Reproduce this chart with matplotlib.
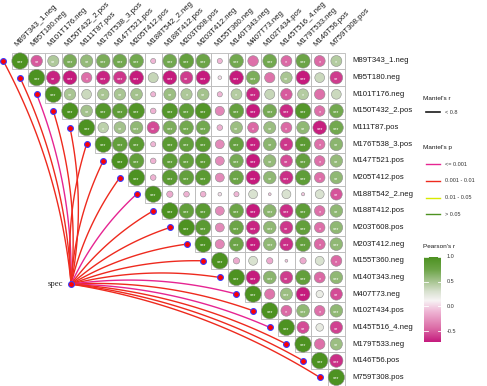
import matplotlib
matplotlib.use("Agg")
import matplotlib.pyplot as plt
from matplotlib.colors import LinearSegmentedColormap
from matplotlib.patches import Circle, Rectangle
import numpy as np

plt.rcParams['font.family'] = ['Liberation Sans', 'DejaVu Sans']

labels = ["M89T343_1.neg", "M95T180.neg", "M101T176.neg", "M150T432_2.pos",
          "M111T87.pos", "M176T538_3.pos", "M147T521.pos", "M205T412.pos",
          "M188T542_2.neg", "M188T412.pos", "M203T608.pos", "M203T412.neg",
          "M155T360.neg", "M140T343.neg", "M407T73.neg", "M102T434.pos",
          "M145T516_4.neg", "M179T533.neg", "M146T56.pos", "M759T308.pos"]

# Pearson's r, upper triangle: row i holds columns i+1 .. 19
r_upper = [
    [-0.5, 0.47, 0.69, 0.58, 0.69, 0.72, 0.72, -0.1, 0.72, 0.8, 0.75, -0.1, 0.72, -0.42, 0.72, -0.45, 0.75, -0.45, 0.45],
    [-0.69, -0.72, -0.42, -0.68, -0.62, -0.72, 0.38, -0.72, -0.6, -0.72, 0.05, -0.72, 0.68, -0.4, 0.5, -0.72, 0.36, -0.6],
    [0.5, 0.36, 0.5, 0.5, 0.52, -0.1, 0.55, 0.48, 0.52, -0.1, 0.45, -0.68, 0.38, -0.5, 0.45, -0.42, 0.36],
    [0.52, 0.93, 0.85, 0.95, -0.12, 0.93, 0.85, 0.95, -0.32, 0.8, -0.72, 0.7, -0.66, 0.93, -0.42, 0.72],
    [0.42, 0.52, 0.6, -0.55, 0.68, 0.72, 0.72, -0.12, 0.55, -0.45, 0.55, -0.45, 0.6, -0.7, 0.72],
    [0.82, 0.88, -0.1, 0.88, 0.82, 0.88, -0.3, 0.8, -0.7, 0.62, -0.62, 0.88, -0.42, 0.62],
    [0.82, -0.12, 0.85, 0.82, 0.88, -0.3, 0.7, -0.72, 0.58, -0.55, 0.8, -0.42, 0.58],
    [-0.12, 0.88, 0.82, 0.88, -0.3, 0.75, -0.72, 0.6, -0.65, 0.85, -0.42, 0.6],
    [-0.15, -0.12, -0.12, 0.05, -0.1, 0.3, -0.03, 0.3, -0.04, 0.3, -0.52],
    [0.82, 0.88, -0.3, 0.75, -0.72, 0.62, -0.65, 0.85, -0.42, 0.6],
    [0.88, -0.3, 0.75, -0.68, 0.6, -0.62, 0.82, -0.42, 0.6],
    [-0.32, 0.75, -0.72, 0.6, -0.65, 0.82, -0.45, 0.6],
    [-0.15, 0.3, -0.15, -0.03, -0.15, 0.3, -0.45],
    [-0.72, 0.62, -0.6, 0.82, -0.45, 0.6],
    [-0.4, 0.55, -0.72, 0.2, -0.55],
    [-0.45, 0.6, -0.42, 0.6],
    [-0.55, 0.22, -0.58],
    [-0.42, 0.55],
    [-0.65],
]

stars_upper = [
    ['**', '**', '***', '**', '***', '***', '***', '', '***', '***', '***', '', '***', '', '***', '*', '***', '*', '*'],
    ['**', '***', '*', '***', '***', '***', '', '***', '**', '***', '', '***', '***', '', '**', '***', '', '**'],
    ['**', '', '**', '**', '**', '', '**', '*', '**', '', '*', '***', '', '*', '*', '', ''],
    ['**', '***', '***', '***', '', '***', '***', '***', '', '***', '***', '***', '***', '***', '*', '***'],
    ['*', '**', '***', '**', '***', '***', '***', '', '**', '*', '**', '*', '**', '***', '***'],
    ['***', '***', '', '***', '***', '***', '', '***', '***', '**', '**', '***', '*', '**'],
    ['***', '', '***', '***', '***', '', '***', '***', '**', '**', '***', '*', '**'],
    ['', '***', '***', '***', '', '***', '***', '**', '***', '***', '*', '**'],
    ['', '', '', '', '', '', '', '', '', '', '**'],
    ['***', '***', '', '***', '***', '***', '***', '***', '*', '**'],
    ['***', '', '***', '***', '***', '**', '***', '*', '***'],
    ['', '***', '***', '***', '***', '***', '*', '***'],
    ['', '', '', '', '', '', '*'],
    ['***', '***', '**', '***', '*', '***'],
    ['', '***', '***', '', '**'],
    ['*', '***', '*', '***'],
    ['**', '', '**'],
    ['', '**'],
    ['***'],
]

# Mantel test p class of spec vs each variable
mantel_p = ['0.001 - 0.01', '0.001 - 0.01', '<= 0.001', '0.001 - 0.01', '0.001 - 0.01',
            '0.001 - 0.01', '0.001 - 0.01', '0.001 - 0.01', '<= 0.001', '0.001 - 0.01',
            '0.001 - 0.01', '0.001 - 0.01', '0.001 - 0.01', '0.001 - 0.01', '<= 0.001',
            '0.001 - 0.01', '<= 0.001', '0.001 - 0.01', '0.001 - 0.01', '0.001 - 0.01']
p_levels = ['<= 0.001', '0.001 - 0.01', '0.01 - 0.05', '> 0.05']
p_colors = ['#e62592', '#ee2a1e', '#d8ea00', '#4d9221']
r_levels = ['< 0.8']

n = len(labels)
corr = np.eye(n)
stars = [['***' if i == j else '' for j in range(n)] for i in range(n)]
for i, row in enumerate(r_upper):
    for k, v in enumerate(row):
        corr[i, i + 1 + k] = v
        stars[i][i + 1 + k] = stars_upper[i][k]

vmin = min(min(row) for row in r_upper)
vmax = 1.0
anchors = [(-0.72, '#c51b7d'), (-0.45, '#db6aa5'), (-0.1, '#efb6d5'), (0.12, '#f7f4f5'),
           (0.3, '#d9e2d0'), (0.5, '#a9c593'), (0.75, '#6ca447'), (1.0, '#4d9221')]
pos = [min(max((v - vmin) / (vmax - vmin), 0), 1) for v, _ in anchors]
pos[0], pos[-1] = 0.0, 1.0
cmap = LinearSegmentedColormap.from_list('pg', list(zip(pos, [c for _, c in anchors])))

def col_of(v):
    return cmap((v - vmin) / (vmax - vmin))

W, H = 487, 386
cell = 16.65
cx0, cy0 = 20, 61   # pixel centre of the top-left cell

fig = plt.figure(figsize=(W / 100, H / 100), dpi=100)
ax = fig.add_axes([0, 0, 1, 1])
ax.set_xlim(-cx0 / cell, (W - cx0) / cell)
ax.set_ylim((H - cy0) / cell, -cy0 / cell)
ax.axis('off')

# Mantel links from spec to the node left of each diagonal cell
spec = np.array([3.07, 13.4])
k = 0.1
t = np.linspace(0, 1, 60)
for i in range(n):
    end = np.array([i - 1.0, float(i)])
    d = end - spec
    L = np.hypot(*d)
    nrm = np.array([d[1], -d[0]]) / L
    if end[0] < spec[0]:
        nrm = -nrm
    c = (spec + end) / 2 + k * L * nrm
    pts = ((1 - t)[:, None] ** 2) * spec + (2 * t * (1 - t))[:, None] * c + (t[:, None] ** 2) * end
    color = p_colors[p_levels.index(mantel_p[i])]
    ax.plot(pts[:, 0], pts[:, 1], color=color, lw=1.0, zorder=1, solid_capstyle='round')
    ax.plot(end[0], end[1], 'o', ms=4.2, mfc='#ff0000', mec='#3b3bff', mew=0.8, zorder=5)
ax.plot(spec[0], spec[1], 'o', ms=4.2, mfc='#ff0000', mec='#3b3bff', mew=0.8, zorder=5)
ax.text(spec[0] - 0.5, spec[1], 'spec', ha='right', va='center', fontsize=6.2,
        family=['Liberation Serif', 'DejaVu Serif'], color='#222222')

# correlation cells
for i in range(n):
    for j in range(i, n):
        ax.add_patch(Rectangle((j - 0.5, i - 0.5), 1, 1, fc='white', ec='#b8b8b8', lw=0.6, zorder=2))
for i in range(n):
    for j in range(i, n):
        v = corr[i, j]
        rad = 0.49 * np.sqrt(abs(v))
        ax.add_patch(Circle((j, i), rad, fc=col_of(v), ec='#8c8c8c', lw=0.4, zorder=3))
        if stars[i][j]:
            ax.text(j, i + 0.1, stars[i][j], ha='center', va='center', fontsize=3.9,
                    color='white', zorder=4)

for i, lab in enumerate(labels):
    ax.text(n - 0.5 + 0.45, i, lab, ha='left', va='center', fontsize=5.6, color='#1a1a1a')
    ax.text(i - 0.2, -0.85, lab, ha='left', va='baseline', rotation=45,
            rotation_mode='anchor', fontsize=5.6, color='#1a1a1a')

# legends in pixel coordinates
lg = fig.add_axes([0, 0, 1, 1])
lg.set_xlim(0, W)
lg.set_ylim(H, 0)
lg.axis('off')
lg.text(423, 98, "Mantel's r", fontsize=4.6, va='center', color='#1a1a1a')
for m, lab in enumerate(r_levels):
    y = 112 + m * 17
    lg.plot([426, 440], [y, y], color='#1a1a1a', lw=1.2)
    lg.text(445, y, lab, fontsize=4.0, va='center', color='#333333')
lg.text(423, 148, "Mantel's p", fontsize=4.6, va='center', color='#1a1a1a')
for m, (lab, c) in enumerate(zip(p_levels, p_colors)):
    y = 164 + m * 16.8
    lg.plot([426, 440], [y, y], color=c, lw=1.0)
    lg.text(445, y, lab, fontsize=4.0, va='center', color='#333333')

lg.text(423, 247, "Pearson's r", fontsize=4.6, va='center', color='#1a1a1a')
top, bot, left, right = 257, 342, 424, 441
grad = np.linspace(vmax, vmin, 256)[:, None]
lg.imshow(cmap((grad - vmin) / (vmax - vmin)), extent=(left, right, bot, top), aspect='auto',
          interpolation='bilinear')
lg.set_xlim(0, W)
lg.set_ylim(H, 0)
for v in [1.0, 0.5, 0.0, -0.5]:
    y = top + (vmax - v) / (vmax - vmin) * (bot - top)
    lg.plot([left, left + 3.5], [y, y], color='white', lw=0.6)
    lg.plot([right - 3.5, right], [y, y], color='white', lw=0.6)
    lg.text(447, y, f"{v:.1f}", fontsize=4.0, va='center', color='#333333')

fig.savefig('out.png', dpi=100)
